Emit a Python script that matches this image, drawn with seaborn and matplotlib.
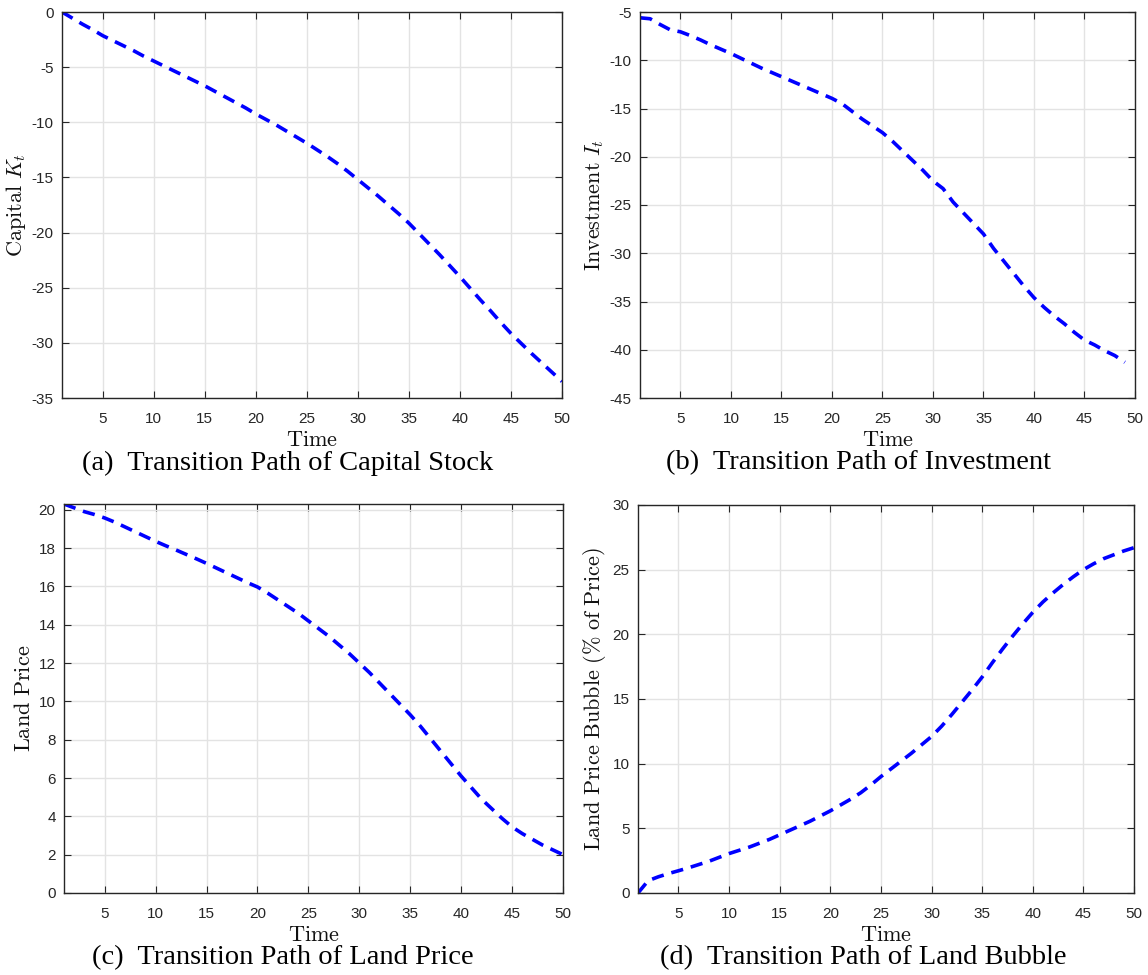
import numpy as np
import pandas as pd
import matplotlib
matplotlib.use("Agg")
import matplotlib.pyplot as plt
import seaborn as sns

# ---- data ----
time_a = list(range(1, 51))
capital = [0.0, -0.55, -1.1, -1.6, -2.15, -2.6, -3.05, -3.5, -4.0, -4.45,
           -4.9, -5.35, -5.8, -6.25, -6.7, -7.2, -7.7, -8.2, -8.7, -9.25,
           -9.75, -10.25, -10.8, -11.35, -11.9, -12.5, -13.1, -13.75, -14.45, -15.2,
           -15.95, -16.7, -17.5, -18.3, -19.15, -20.1, -21.05, -22.0, -23.0, -24.0,
           -25.05, -26.1, -27.1, -28.15, -29.15, -30.05, -30.95, -31.8, -32.65, -33.5]

time_b = list(range(1, 50))
investment = [-5.6, -5.7, -6.3, -6.85, -7.05, -7.45, -7.9, -8.4, -8.85, -9.3,
              -9.8, -10.3, -10.8, -11.25, -11.7, -12.15, -12.6, -13.05, -13.5, -13.95,
              -14.5, -15.3, -16.1, -16.8, -17.5, -18.4, -19.4, -20.4, -21.4, -22.5,
              -23.3, -24.7, -25.8, -26.9, -28.0, -29.5, -30.8, -32.1, -33.4, -34.6,
              -35.6, -36.5, -37.3, -38.2, -39.0, -39.5, -40.1, -40.6, -41.3]

time_c = list(range(1, 51))
land_price = [20.3, 20.1, 19.9, 19.75, 19.57, 19.35, 19.1, 18.85, 18.6, 18.35,
              18.12, 17.9, 17.67, 17.44, 17.2, 16.95, 16.7, 16.45, 16.2, 15.97,
              15.65, 15.3, 14.95, 14.6, 14.2, 13.8, 13.4, 12.95, 12.5, 12.0,
              11.5, 10.95, 10.4, 9.85, 9.3, 8.7, 8.05, 7.4, 6.75, 6.1,
              5.5, 4.9, 4.4, 3.9, 3.45, 3.1, 2.8, 2.5, 2.25, 2.0]

time_d = list(range(1, 51))
bubble = [0.0, 0.95, 1.25, 1.5, 1.72, 1.95, 2.2, 2.45, 2.75, 3.05,
          3.3, 3.55, 3.85, 4.15, 4.5, 4.85, 5.2, 5.55, 5.95, 6.35,
          6.8, 7.25, 7.75, 8.35, 9.0, 9.6, 10.2, 10.8, 11.45, 12.1,
          12.9, 13.8, 14.75, 15.7, 16.7, 17.8, 18.85, 19.85, 20.8, 21.7,
          22.5, 23.2, 23.85, 24.45, 25.0, 25.45, 25.85, 26.15, 26.45, 26.7]

x_ticks = [5, 10, 15, 20, 25, 30, 35, 40, 45, 50]

panels = [
    dict(t=time_a, y=capital, ylabel=r"$\mathrm{Capital}\ K_t$", ylim=(-35, 0),
         yticks=[-35, -30, -25, -20, -15, -10, -5, 0],
         caption="(a)  Transition Path of Capital Stock", cx=288),
    dict(t=time_b, y=investment, ylabel=r"$\mathrm{Investment}\ I_t$", ylim=(-45, -5),
         yticks=[-45, -40, -35, -30, -25, -20, -15, -10, -5],
         caption="(b)  Transition Path of Investment", cx=858),
    dict(t=time_c, y=land_price, ylabel=r"$\mathrm{Land\ Price}$", ylim=(0, 20.3),
         yticks=[0, 2, 4, 6, 8, 10, 12, 14, 16, 18, 20],
         caption="(c)  Transition Path of Land Price", cx=283),
    dict(t=time_d, y=bubble, ylabel=r"$\mathrm{Land\ Price\ Bubble\ (\%\ of\ Price)}$", ylim=(0, 30),
         yticks=[0, 5, 10, 15, 20, 25, 30],
         caption="(d)  Transition Path of Land Bubble", cx=863),
]

sns.set_theme(style="whitegrid")
plt.rcParams["font.family"] = ["Liberation Sans", "DejaVu Sans"]
plt.rcParams["mathtext.fontset"] = "cm"
plt.rcParams["axes.unicode_minus"] = False

fig = plt.figure(figsize=(11.48, 9.75), dpi=100)
W, H = 1148, 975
boxes = [(62, 12, 562, 398), (640, 12, 1135, 398),
         (64, 504, 563, 893), (638, 505, 1134, 893)]

for p, (l, t, r, b) in zip(panels, boxes):
    ax = fig.add_axes([l / W, 1 - b / H, (r - l) / W, (b - t) / H])
    df = pd.DataFrame({"Time": p["t"], "val": p["y"]})
    sns.lineplot(data=df, x="Time", y="val", ax=ax, color="#0000ff",
                 linewidth=2.6, linestyle=(0, (3.4, 2.2)))
    ax.set_xlim(1, 50)
    ax.set_ylim(*p["ylim"])
    ax.set_xticks(x_ticks)
    ax.set_yticks(p["yticks"])
    ax.set_facecolor("white")
    ax.grid(True, color="#e3e3e3", linewidth=1.0)
    for s in ax.spines.values():
        s.set_color("#262626")
        s.set_linewidth(1.0)
        s.set_visible(True)
    ax.tick_params(direction="in", length=5, width=0.8, colors="#262626",
                   labelsize=11, top=True, right=True, bottom=True, left=True,
                   labelcolor="#262626")
    ax.tick_params(axis="x", pad=10)
    ax.tick_params(axis="y", pad=6)
    ax.set_xlabel(r"$\mathrm{Time}$", fontsize=16, labelpad=3, color="#111111")
    ax.set_ylabel(p["ylabel"], fontsize=16, labelpad=3, color="#111111")
    fig.text(p["cx"] / W, 1 - (b + 65) / H, p["caption"], ha="center", va="center",
             fontsize=20.5, family=["Liberation Serif", "DejaVu Serif"], color="black")

fig.savefig("out.png", dpi=100, facecolor="white")
